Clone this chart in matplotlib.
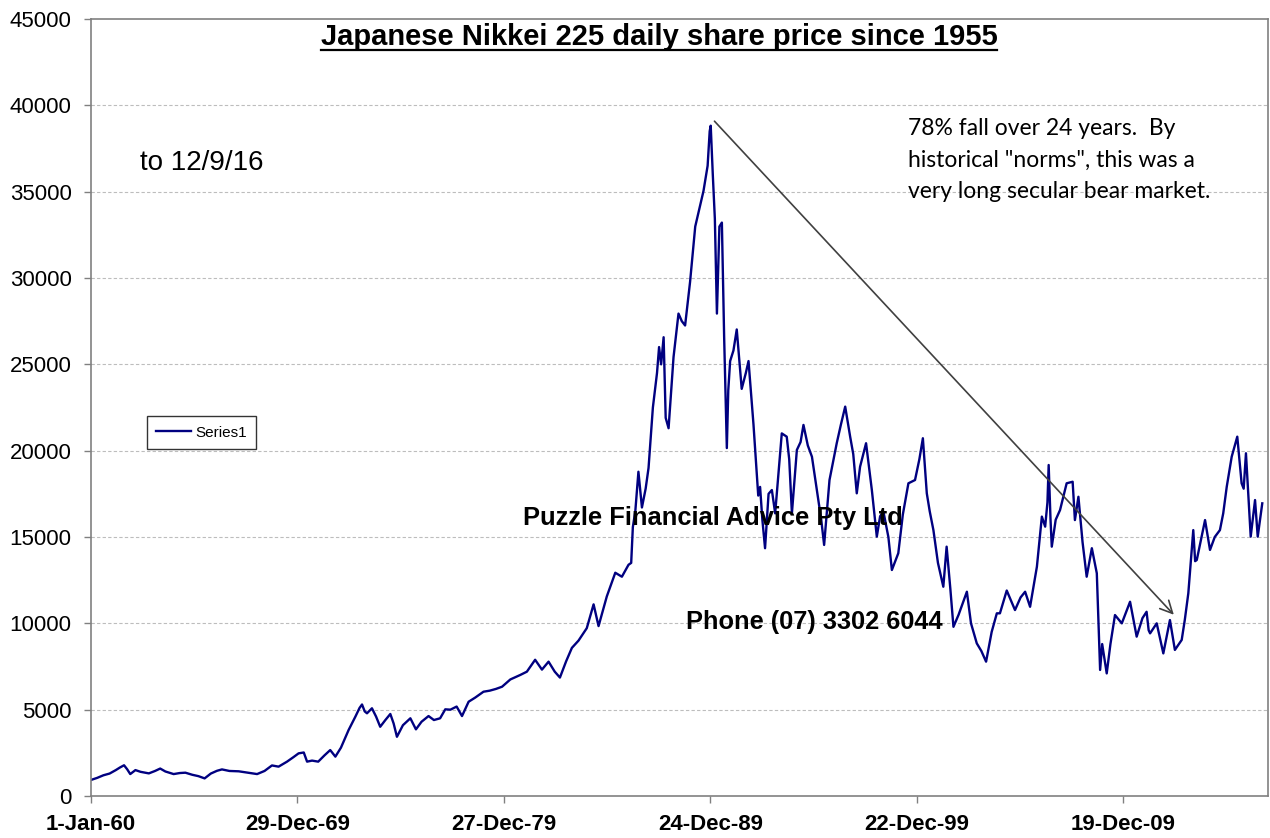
import matplotlib
matplotlib.use("Agg")
import matplotlib.pyplot as plt
from matplotlib.lines import Line2D
import numpy as np

# ---- data (year fraction, index level) ----
years = [
    1960.00, 1960.3, 1960.6, 1960.9, 1961.2, 1961.4, 1961.6, 1961.75, 1961.9, 1962.15,
    1962.4, 1962.8, 1963.1, 1963.35, 1963.6, 1964.0, 1964.3, 1964.57, 1964.9, 1965.2,
    1965.5, 1965.8, 1966.1, 1966.34, 1966.7, 1967.15, 1967.6, 1968.04, 1968.4, 1968.76,
    1969.08, 1969.49, 1969.8, 1970.05, 1970.3, 1970.46, 1970.7, 1971.0, 1971.3, 1971.58,
    1971.83, 1972.1, 1972.47, 1972.8, 1973.0, 1973.12, 1973.25, 1973.36, 1973.6, 1973.8,
    1974.0, 1974.25, 1974.49, 1974.65, 1974.81, 1975.1, 1975.46, 1975.73, 1976.0, 1976.34,
    1976.6, 1976.9, 1977.15, 1977.4, 1977.7, 1977.96, 1978.28, 1978.6, 1979.0, 1979.3,
    1979.6, 1979.9, 1980.3, 1980.78, 1981.1, 1981.5, 1981.83, 1982.15, 1982.45, 1982.7,
    1983.0, 1983.28, 1983.6, 1984.0, 1984.33, 1984.57, 1984.97, 1985.38, 1985.7, 1986.02,
    1986.15, 1986.23, 1986.35, 1986.5, 1986.67, 1986.85, 1986.99, 1987.2, 1987.4, 1987.5,
    1987.6, 1987.72, 1987.82, 1987.96, 1988.2, 1988.44, 1988.6, 1988.76, 1989.0, 1989.25,
    1989.45, 1989.65, 1989.85, 1989.95, 1990.0, 1990.1, 1990.2, 1990.3, 1990.42, 1990.54,
    1990.65, 1990.78, 1990.85, 1990.94, 1991.1, 1991.26, 1991.5, 1991.7, 1991.83, 1992.07,
    1992.3, 1992.39, 1992.5, 1992.63, 1992.8, 1992.96, 1993.12, 1993.3, 1993.44, 1993.68,
    1993.8, 1993.93, 1994.17, 1994.35, 1994.49, 1994.7, 1994.9, 1995.21, 1995.35, 1995.49,
    1995.75, 1996.1, 1996.3, 1996.51, 1996.75, 1996.9, 1997.07, 1997.23, 1997.52, 1997.8,
    1998.04, 1998.2, 1998.36, 1998.6, 1998.77, 1999.08, 1999.3, 1999.57, 1999.89, 2000.1,
    2000.27, 2000.46, 2000.6, 2000.78, 2001.0, 2001.26, 2001.42, 2001.6, 2001.75, 2002.0,
    2002.4, 2002.6, 2002.88, 2003.1, 2003.33, 2003.6, 2003.85, 2004.0, 2004.33, 2004.73,
    2005.0, 2005.22, 2005.46, 2005.79, 2006.03, 2006.19, 2006.3, 2006.36, 2006.45, 2006.51,
    2006.7, 2006.91, 2007.23, 2007.52, 2007.63, 2007.8, 2008.0, 2008.2, 2008.45, 2008.69,
    2008.85, 2008.95, 2009.17, 2009.35, 2009.57, 2009.9, 2010.3, 2010.62, 2010.9, 2011.1,
    2011.2, 2011.27, 2011.59, 2011.91, 2012.23, 2012.47, 2012.8, 2012.95, 2013.12, 2013.36,
    2013.45, 2013.53, 2013.93, 2014.17, 2014.4, 2014.65, 2014.81, 2014.98, 2015.22, 2015.49,
    2015.7, 2015.8, 2015.91, 2016.14, 2016.35, 2016.48, 2016.7,
]
prices = [
    930, 1050, 1200, 1300, 1500, 1650, 1780, 1550, 1270, 1500,
    1400, 1310, 1450, 1590, 1420, 1270, 1330, 1350, 1230, 1150,
    1020, 1300, 1460, 1540, 1450, 1430, 1350, 1270, 1450, 1770,
    1700, 1990, 2250, 2470, 2520, 1990, 2050, 1990, 2350, 2660,
    2280, 2800, 3820, 4600, 5100, 5300, 4900, 4790, 5080, 4600,
    4010, 4400, 4750, 4200, 3430, 4100, 4500, 3860, 4300, 4630,
    4400, 4500, 5020, 5000, 5180, 4630, 5460, 5700, 6040, 6100,
    6200, 6330, 6750, 7010, 7200, 7890, 7320, 7780, 7200, 6860,
    7800, 8580, 9000, 9720, 11100, 9840, 11560, 12930, 12700, 13390,
    13500, 15570, 16500, 18780, 16710, 17800, 19000, 22500, 24500, 26000,
    25000, 26570, 21900, 21300, 25420, 27940, 27500, 27250, 29770, 32980,
    34000, 35040, 36500, 38500, 38820, 36000, 33430, 27940, 32980, 33210,
    26570, 20150, 23500, 25190, 25800, 27020, 23580, 24500, 25190, 21520,
    17400, 17900, 16000, 14350, 17500, 17720, 16370, 19000, 21000, 20810,
    19500, 16370, 20040, 20500, 21490, 20300, 19650, 17140, 16000, 14540,
    18300, 20430, 21500, 22550, 20810, 19800, 17530, 19070, 20430, 17720,
    15020, 16200, 16470, 15000, 13090, 14060, 16300, 18110, 18300, 19500,
    20720, 17530, 16500, 15400, 13500, 12120, 14440, 12000, 9800, 10500,
    11830, 10000, 8840, 8400, 7780, 9500, 10580, 10580, 11900, 10770,
    11500, 11830, 10960, 13280, 16180, 15600, 17000, 19170, 16000, 14440,
    16000, 16560, 18110, 18200, 15980, 17330, 14700, 12700, 14350, 12900,
    7300, 8800, 7100, 8800, 10480, 10000, 11250, 9230, 10300, 10670,
    9600, 9420, 10000, 8260, 10190, 8460, 9040, 10200, 11740, 15400,
    13600, 13670, 15980, 14250, 15000, 15400, 16370, 17910, 19650, 20810,
    18110, 17800, 19850, 15020, 17140, 15020, 16950,
]

tick_days = [0, 3650, 7300, 10950, 14600, 18250]
tick_labels = ["1-Jan-60", "29-Dec-69", "27-Dec-79", "24-Dec-89", "22-Dec-99", "19-Dec-09"]
y_ticks = [0, 5000, 10000, 15000, 20000, 25000, 30000, 35000, 40000, 45000]

arrow_start = (1990.09, 39200)
arrow_end = (2012.51, 10380)

def to_days(y):
    return (np.asarray(y) - 1960.0) * 365.25

W, H = 1270, 838
fig = plt.figure(figsize=(W / 100, H / 100), dpi=100)
ax = fig.add_axes([91 / W, 1 - 796 / H, (1268 - 91) / W, (796 - 19) / H])

ax.plot(to_days(years), prices, color="#000080", lw=1.7, label="Series1")

ax.set_xlim(0, 20811)
ax.set_ylim(0, 45000)
ax.set_yticks(y_ticks)
ax.set_yticklabels([str(v) for v in y_ticks], fontsize=16, family="Liberation Sans")
ax.set_xticks(tick_days)
ax.set_xticklabels(tick_labels, fontsize=16, family="Liberation Sans", fontweight="bold")
ax.tick_params(axis="y", direction="out", length=5, width=1, color="#808080", pad=9)
ax.tick_params(axis="x", direction="out", length=5, width=1, color="#808080", pad=8)

for g in y_ticks[1:-1]:
    ax.axhline(g, color="#bdbdbd", lw=0.8, linestyle=(0, (3, 2)), zorder=0)
for s in ax.spines.values():
    s.set_color("#808080")
    s.set_linewidth(1.2)

# arrow
ax.annotate("", xy=(to_days(arrow_end[0]), arrow_end[1]),
            xytext=(to_days(arrow_start[0]), arrow_start[1]),
            arrowprops=dict(arrowstyle="->", color="#404040", lw=1.2, mutation_scale=22))

leg = ax.legend(loc="center", bbox_to_anchor=(0.0939, 0.4678),
                prop={"family": "Liberation Sans", "size": 11},
                frameon=True, fancybox=False, handlelength=2.3, borderpad=0.6,
                handletextpad=0.3)
leg.get_frame().set_edgecolor("black")
leg.get_frame().set_linewidth(1.0)

# texts
title = fig.text(659 / W, 1 - 37 / H, "Japanese Nikkei 225 daily share price since 1955",
                 ha="center", va="center", fontsize=21, fontweight="bold",
                 family="Liberation Sans")
fig.text(140 / W, 1 - 163 / H, "to 12/9/16", ha="left", va="center", fontsize=20,
         family="Liberation Sans")
fig.text(908 / W, 1 - 118 / H,
         "78% fall over 24 years.  By\nhistorical \"norms\", this was a\nvery long secular bear market.",
         ha="left", va="top", fontsize=16.5, family="Lato", linespacing=1.62)
fig.text(523 / W, 1 - 518 / H, "Puzzle Financial Advice Pty Ltd", ha="left", va="center",
         fontsize=18.4, fontweight="bold", family="Liberation Sans")
fig.text(686 / W, 1 - 622 / H, "Phone (07) 3302 6044", ha="left", va="center",
         fontsize=18.3, fontweight="bold", family="Liberation Sans")

# title underline
fig.canvas.draw()
bb = title.get_window_extent()
fig.add_artist(Line2D([bb.x0 / W, bb.x1 / W], [1 - 50 / H, 1 - 50 / H],
                      transform=fig.transFigure, color="black", lw=1.6))

fig.savefig("out.png", dpi=100)
